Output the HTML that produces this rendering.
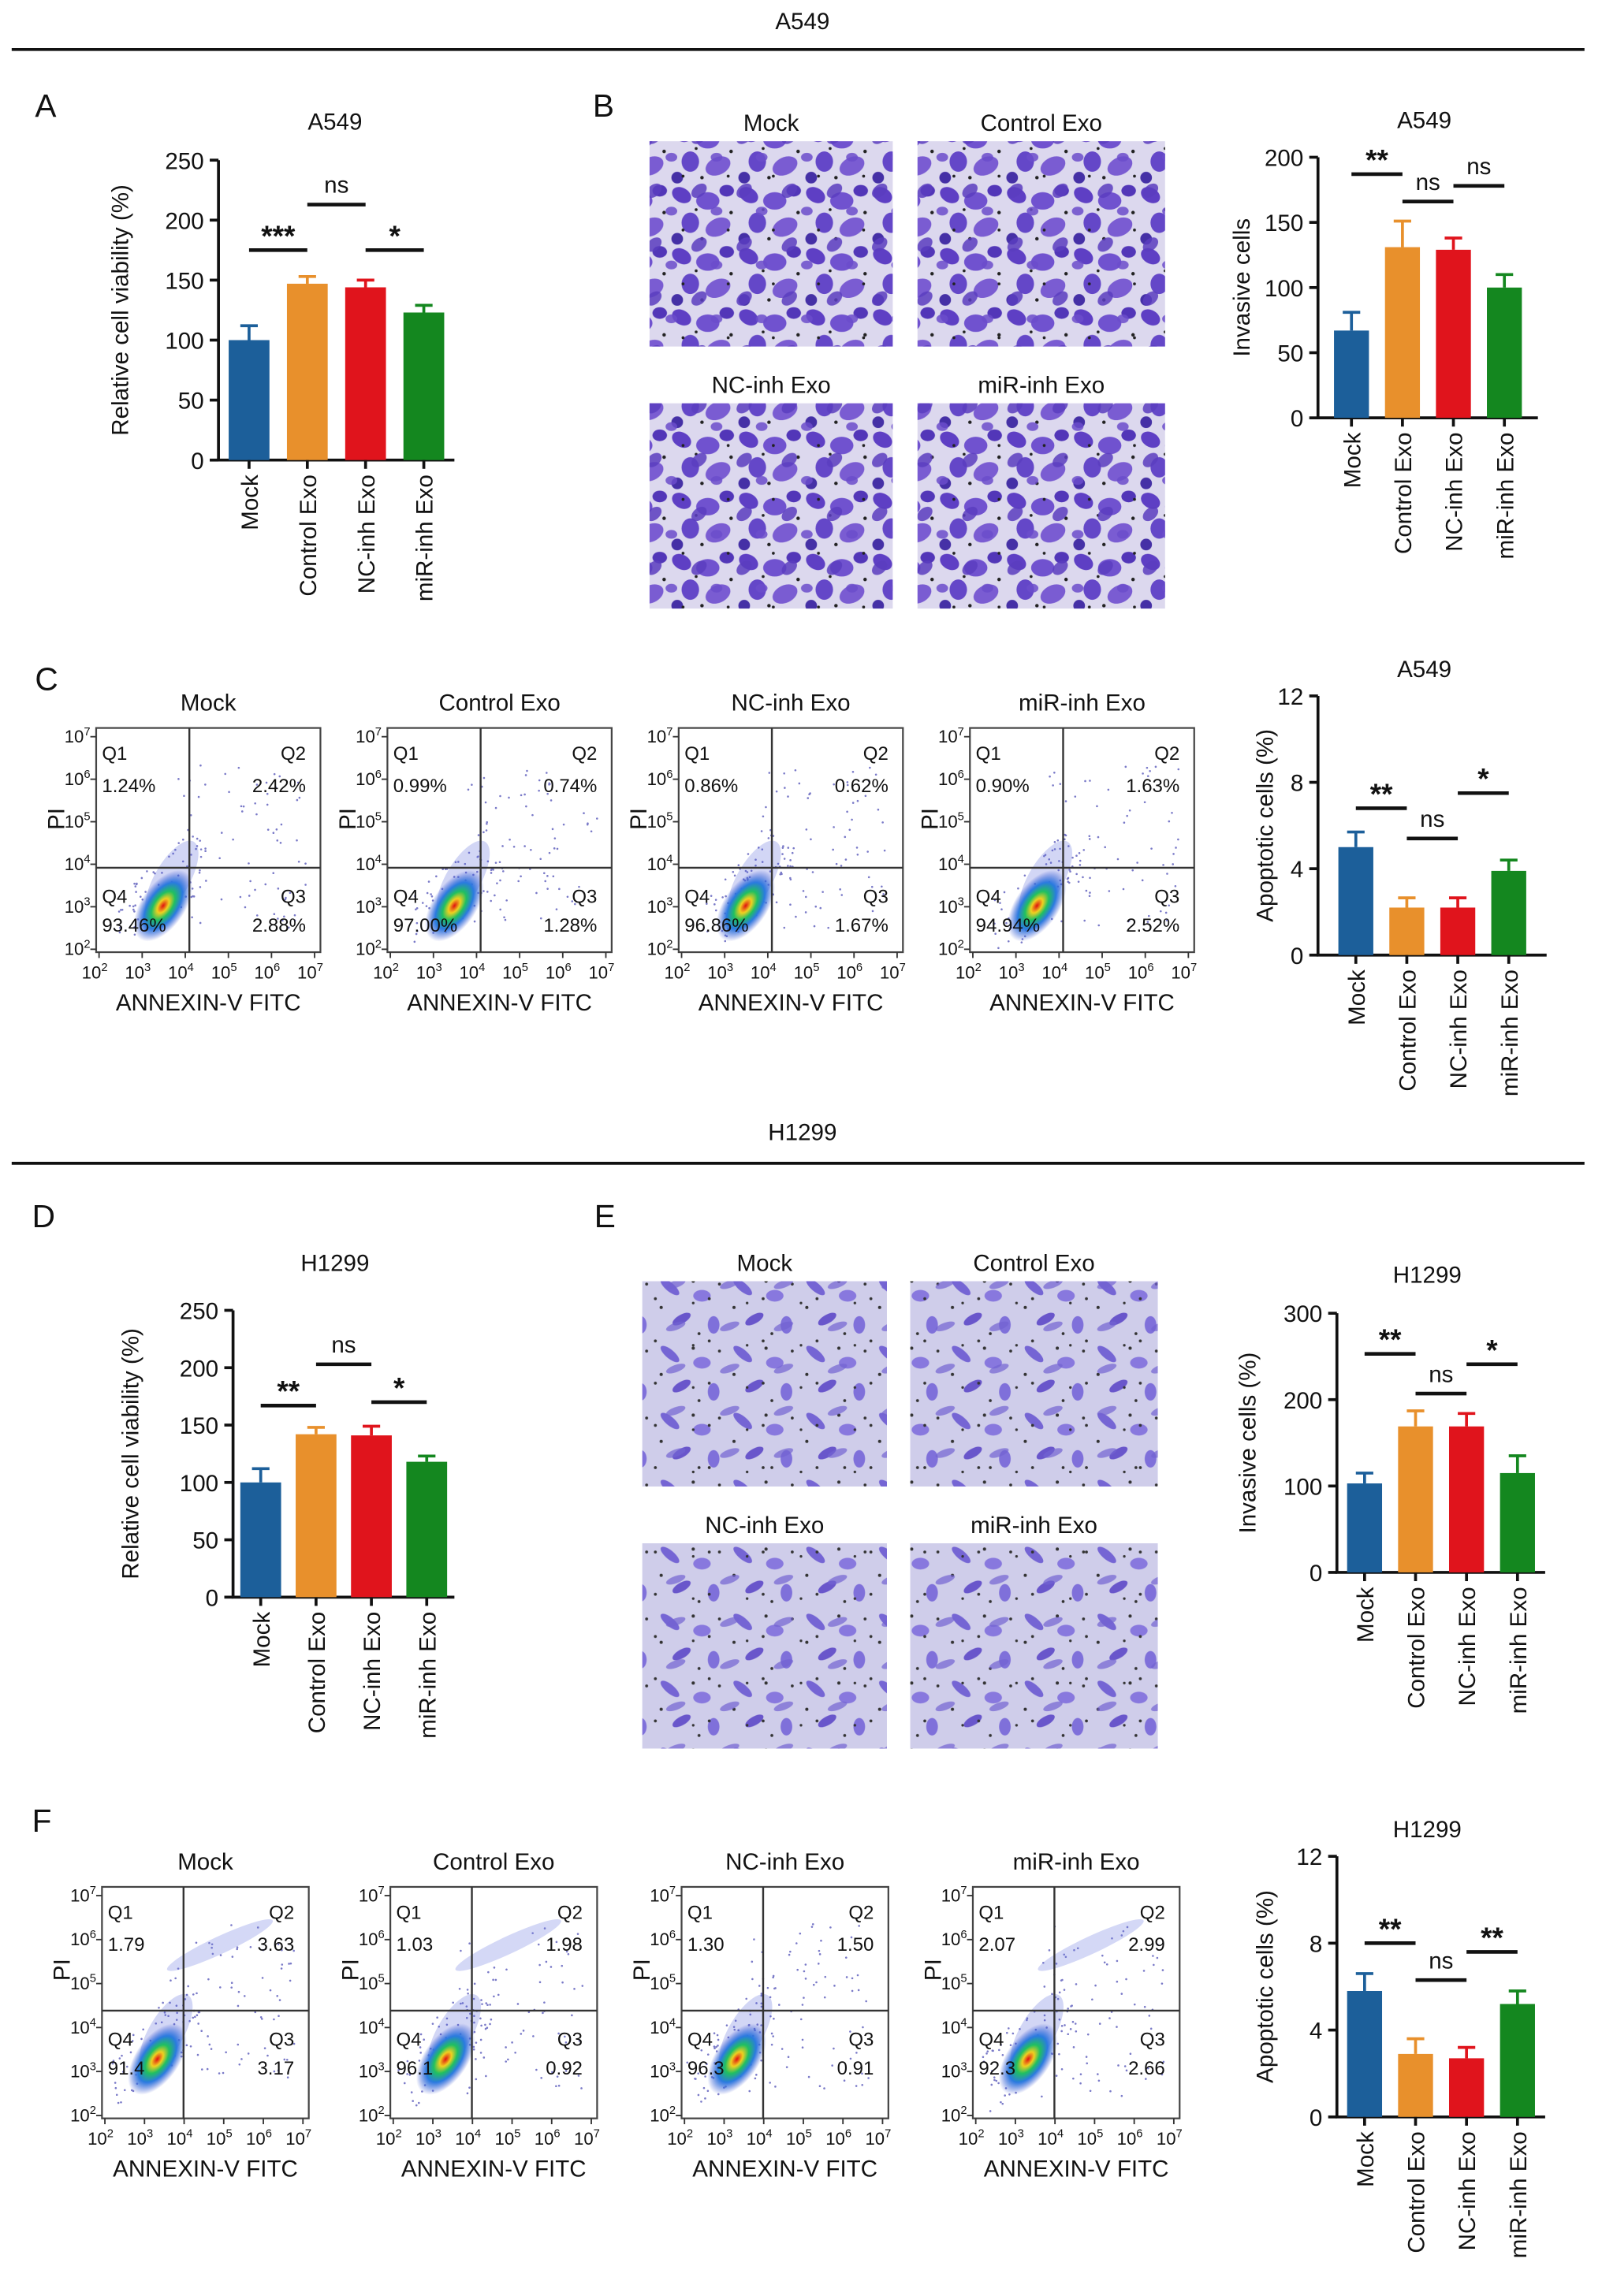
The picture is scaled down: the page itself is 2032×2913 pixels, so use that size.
<!DOCTYPE html>
<html><head><meta charset="utf-8"><style>
html,body{margin:0;padding:0;background:#fff}
svg{display:block}
text{font-family:"Liberation Sans",sans-serif;fill:#111}
</style></head><body>
<svg id="fig" width="2032" height="2913" viewBox="0 0 1100 1577" xmlns="http://www.w3.org/2000/svg">
<defs>
<pattern id="cellsA" width="46" height="42" patternUnits="userSpaceOnUse">
<rect width="46" height="42" fill="#dcd8ee"/>
<ellipse cx="8" cy="8" rx="7" ry="5" fill="#5e3fc4" transform="rotate(30 8 8)"/>
<ellipse cx="26" cy="12" rx="8" ry="6" fill="#7052cf"/>
<ellipse cx="39" cy="5" rx="5" ry="4" fill="#5236b8"/>
<ellipse cx="14" cy="27" rx="6" ry="7" fill="#6447c8"/>
<ellipse cx="33" cy="30" rx="9" ry="6" fill="#7a5cd2" transform="rotate(-25 33 30)"/>
<ellipse cx="5" cy="38" rx="4" ry="4" fill="#4530a6"/>
<circle cx="22" cy="38" r="1.2" fill="#222"/><circle cx="42" cy="20" r="1.2" fill="#222"/><circle cx="18" cy="18" r="1" fill="#222"/>
</pattern>
<pattern id="cellsA2" width="31" height="37" patternUnits="userSpaceOnUse">
<ellipse cx="15" cy="20" rx="6" ry="4" fill="#5a3dc0" opacity="0.85" transform="rotate(-40 15 20)"/>
<ellipse cx="27" cy="34" rx="4" ry="3" fill="#6b4ccb" opacity="0.85"/>
<circle cx="4" cy="10" r="1" fill="#222"/>
</pattern>
<pattern id="cellsH" width="50" height="46" patternUnits="userSpaceOnUse">
<rect width="50" height="46" fill="#cfcdea"/>
<ellipse cx="10" cy="10" rx="8" ry="3" fill="#7565d4" transform="rotate(40 10 10)"/>
<ellipse cx="32" cy="16" rx="6" ry="4" fill="#8878de"/>
<ellipse cx="18" cy="32" rx="7" ry="3" fill="#6956cb" transform="rotate(-30 18 32)"/>
<ellipse cx="40" cy="36" rx="4" ry="6" fill="#7f70da"/>
<circle cx="26" cy="6" r="1.1" fill="#333"/><circle cx="4" cy="24" r="1.1" fill="#333"/><circle cx="44" cy="8" r="1" fill="#333"/><circle cx="30" cy="42" r="1" fill="#333"/>
</pattern>
<pattern id="cellsH2" width="37" height="29" patternUnits="userSpaceOnUse">
<ellipse cx="20" cy="12" rx="7" ry="2.5" fill="#7262d2" opacity="0.7" transform="rotate(-20 20 12)"/>
<circle cx="6" cy="22" r="1" fill="#333"/><circle cx="32" cy="25" r="0.9" fill="#333"/>
</pattern>
<radialGradient id="dens">
<stop offset="0" stop-color="#e01010"/><stop offset="0.2" stop-color="#f0d020"/><stop offset="0.4" stop-color="#20c060"/><stop offset="0.65" stop-color="#2a7ae0"/><stop offset="1" stop-color="#3a50d0" stop-opacity="0"/>
</radialGradient>
</defs>
<g id="root"></g>
</svg>
<script>
// ---------- data ----------
const categories = ["Mock","Control Exo","NC-inh Exo","miR-inh Exo"];
const viabA549 = [100,147,144,123];
const viabA549Err = [12,6,6,6];
const invA549 = [67,131,129,100];
const invA549Err = [14,20,9,10];
const apoA549 = [5.0,2.2,2.2,3.9];
const apoA549Err = [0.7,0.45,0.45,0.5];
const viabH1299 = [100,142,141,118];
const viabH1299Err = [12,6,8,5];
const invH1299 = [103,169,169,115];
const invH1299Err = [12,18,15,20];
const apoH1299 = [5.8,2.9,2.7,5.2];
const apoH1299Err = [0.8,0.7,0.5,0.6];
const sigA = [[0,1,175,"***"],[1,2,213,"ns"],[2,3,175,"*"]];
const sigB = [[0,1,187,"**"],[1,2,166,"ns"],[2,3,178,"ns"]];
const sigC = [[0,1,6.8,"**"],[1,2,5.4,"ns"],[2,3,7.5,"*"]];
const sigD = [[0,1,167,"**"],[1,2,203,"ns"],[2,3,170,"*"]];
const sigE = [[0,1,253,"**"],[1,2,207,"ns"],[2,3,241,"*"]];
const sigF = [[0,1,8.0,"**"],[1,2,6.3,"ns"],[2,3,7.6,"**"]];
const flowA549Q = [["1.24%","2.42%","2.88%","93.46%"],["0.99%","0.74%","1.28%","97.00%"],["0.86%","0.62%","1.67%","96.86%"],["0.90%","1.63%","2.52%","94.94%"]];
const flowH1299Q = [["1.79","3.63","3.17","91.4"],["1.03","1.98","0.92","96.1"],["1.30","1.50","0.91","96.3"],["2.07","2.99","2.66","92.3"]];
const barColors = ["#1c5f9a","#e8902c","#e0141c","#14871f"];

const NS="http://www.w3.org/2000/svg";
const root=document.getElementById('root');
function el(tag,attrs,parent,txt){const e=document.createElementNS(NS,tag);for(const k in attrs)e.setAttribute(k,attrs[k]);if(txt!==undefined)e.textContent=txt;(parent||root).appendChild(e);return e;}
function hash(n){const s=Math.sin(n*12.9898)*43758.5453;return s-Math.floor(s);}

function barChart(o){
  const g=el('g',{});
  
  
  const yS=v=>o.y0-(v/o.max)*(o.y0-o.yTop);
  const xC=i=>o.x0+o.off+i*o.sp;
  const t=el('text',{x:o.tx,y:o.ty,'text-anchor':'middle','font-size':16},g,o.title);
  
  
  el('line',{x1:o.x0,y1:o.yTop,x2:o.x0,y2:o.y0,stroke:'#111','stroke-width':2},g);
  el('line',{x1:o.x0-1,y1:o.y0,x2:o.x0+o.off*2+o.sp*3,y2:o.y0,stroke:'#111','stroke-width':2},g);
  for(let v=0;v<=o.max+1e-9;v+=o.step){
    const y=yS(v);
    el('line',{x1:o.x0-6,y1:y,x2:o.x0,y2:y,stroke:'#111','stroke-width':2},g);
    const tl=el('text',{x:o.x0-10,y:y+6,'text-anchor':'end','font-size':16},g,String(v));
    
    
  }
  const yt=el('text',{x:o.ytx,y:(o.y0+o.yTop)/2,'text-anchor':'middle','font-size':16,transform:`rotate(-90 ${o.ytx} ${(o.y0+o.yTop)/2})`},g,o.ytitle);
  
  
  o.vals.forEach((v,i)=>{
    const cx=xC(i),y=yS(v),ye=yS(v+o.err[i]);
    const r=el('rect',{x:cx-o.bw/2,y:y,width:o.bw,height:o.y0-y,fill:barColors[i]},g);
    
    
    el('line',{x1:cx,y1:y,x2:cx,y2:ye,stroke:barColors[i],'stroke-width':2},g);
    el('line',{x1:cx-6,y1:ye,x2:cx+6,y2:ye,stroke:barColors[i],'stroke-width':2},g);
    el('line',{x1:cx,y1:o.y0,x2:cx,y2:o.y0+6,stroke:'#111','stroke-width':2},g);
    const lx=cx+6,ly=o.y0+10;
    const cl=el('text',{x:lx,y:ly,'text-anchor':'end','font-size':16,transform:`rotate(-90 ${lx} ${ly})`},g,categories[i]);
    
    
  });
  o.sig.forEach(s=>{
    const y=yS(s[2]),xa=xC(s[0]),xb=xC(s[1]);
    const ln=el('line',{x1:xa,y1:y,x2:xb,y2:y,stroke:'#111','stroke-width':2.5},g);
    
    
    const star=s[3]!=='ns';
    const st=el('text',{x:(xa+xb)/2,y:star?y-3:y-8,'text-anchor':'middle','font-size':star?20:16,'font-weight':star?'bold':'normal'},g,s[3]);
    
    
  });
}

function flowPlot(o,seed){
  const g=el('g',{});
  
  
  const L=o.x,T=o.top,W=o.w,B=o.bot,H=B-T,qx=L+o.qx,qy=o.qy;
  const tt=el('text',{x:L+W/2,y:T-12,'text-anchor':'middle','font-size':16},g,o.title);
  
  
  const cx=qx-18,cy=qy+(B-qy)*0.45;
  for(let k=0;k<140;k++){
    const a=hash(seed*1000+k),b=hash(seed*1000+k+500);
    let px,py;
    if(k<70){ px=cx+(a-0.5)*60+ (b-0.5)*10; py=cy-(a-0.5)*60+(b-0.5)*40-10; }
    else { px=qx-10+a*(W-o.qx); py=T+25+b*(B-T-40); }
    if(px<L+2||px>L+W-2||py<T+2||py>B-2) continue;
    el('circle',{cx:px,cy:py,r:0.7,fill:'#7a7ac8'},g);
  }
  el('ellipse',{cx:cx+6,cy:cy-18,rx:30,ry:12,fill:'#4a5ad8',opacity:0.25,transform:`rotate(-60 ${cx+6} ${cy-18})`},g);
  if(o.tail) el('ellipse',{cx:qx+25,cy:qy-45,rx:40,ry:6,fill:'#6f7ee0',opacity:0.3,transform:`rotate(-25 ${qx+25} ${qy-45})`},g);
  el('ellipse',{cx:cx,cy:cy,rx:28,ry:15,fill:'url(#dens)',transform:`rotate(-55 ${cx} ${cy})`},g);
  el('rect',{x:L,y:T,width:W,height:H,fill:'none',stroke:'#444','stroke-width':1.2},g);
  el('line',{x1:qx,y1:T,x2:qx,y2:B,stroke:'#333','stroke-width':1.3},g);
  el('line',{x1:L,y1:qy,x2:L+W,y2:qy,stroke:'#333','stroke-width':1.3},g);
  for(let i=0;i<6;i++){
    const y=B-2-i*(H-8)/5;
    el('line',{x1:L-4,y1:y,x2:L,y2:y,stroke:'#333'},g);
    const tl=el('text',{x:L-4,y:y+4,'text-anchor':'end','font-size':12},g);
    
    
    tl.appendChild(document.createTextNode('10'));
    el('tspan',{dy:-5,'font-size':8},tl,String(i+2));
  }
  for(let i=0;i<6;i++){
    const x=L+2+i*(W-6)/5;
    el('line',{x1:x,y1:B,x2:x,y2:B+4,stroke:'#333'},g);
    const tl=el('text',{x:x-3,y:B+18,'text-anchor':'middle','font-size':12},g);
    
    
    tl.appendChild(document.createTextNode('10'));
    el('tspan',{dy:-5,'font-size':8},tl,String(i+2));
  }
  const pi=el('text',{x:L-22,y:(T+qy)/2+22,'font-size':16,transform:`rotate(-90 ${L-22} ${(T+qy)/2+22})`},g,'PI');
  
  
  const xt=el('text',{x:L+W/2,y:B+40,'text-anchor':'middle','font-size':16},g,'ANNEXIN-V FITC');
  
  
  const q=o.q,fs=13;
  const lab=(x,y,a,s,n)=>{const t=el('text',{x:x,y:y,'text-anchor':a,'font-size':fs},g,s);};
  lab(L+4,T+22,'start','Q1','quadrant-label');lab(L+4,T+44,'start',q[0],'quadrant-value');
  lab(L+W-10,T+22,'end','Q2','quadrant-label');lab(L+W-10,T+44,'end',q[1],'quadrant-value');
  lab(L+W-10,qy+24,'end','Q3','quadrant-label');lab(L+W-10,qy+44,'end',q[2],'quadrant-value');
  lab(L+4,qy+24,'start','Q4','quadrant-label');lab(L+4,qy+44,'start',q[3],'quadrant-value');
}

function micro(x,y,w,h,pat,pat2,title,name){
  const t=el('text',{x:x+w/2,y:y-7,'text-anchor':'middle','font-size':16},root,title);
  
  
  const r=el('rect',{x:x,y:y,width:w,height:h,fill:`url(#${pat})`});
  
  
  el('rect',{x:x,y:y,width:w,height:h,fill:`url(#${pat2})`});
}
function txt(x,y,s,fs,name,anchor){const t=el('text',{x:x,y:y,'font-size':fs,'text-anchor':anchor||'start'},root,s);}

txt(551,20,'A549',16,'section-title-a549','middle');
el('line',{x1:8,y1:34,x2:1088,y2:34,stroke:'#111','stroke-width':2});
txt(551,783,'H1299',16,'section-title-h1299','middle');
el('line',{x1:8,y1:799,x2:1088,y2:799,stroke:'#111','stroke-width':2});
[['A',24,80],['B',407,80],['C',24,474],['D',22,843],['E',408,843],['F',22,1258]].forEach(p=>txt(p[1],p[2],p[0],22,'panel-label-'+p[0].toLowerCase()));

barChart({name:'chart-a-viability-a549',title:'A549',tx:230,ty:89,x0:150,off:21,sp:40,bw:28,y0:316,yTop:110,max:250,step:50,ytx:88,ytitle:'Relative cell viability (%)',vals:viabA549,err:viabA549Err,sig:sigA});
barChart({name:'chart-b-invasion-a549',title:'A549',tx:978,ty:88,x0:905,off:23,sp:35,bw:24,y0:287,yTop:108,max:200,step:50,ytx:858,ytitle:'Invasive cells',vals:invA549,err:invA549Err,sig:sigB});
barChart({name:'chart-c-apoptosis-a549',title:'A549',tx:978,ty:465,x0:905,off:26,sp:35,bw:24,y0:656,yTop:478,max:12,step:4,ytx:874,ytitle:'Apoptotic cells (%)',vals:apoA549,err:apoA549Err,sig:sigC});
barChart({name:'chart-d-viability-h1299',title:'H1299',tx:230,ty:873,x0:160,off:19,sp:38,bw:28,y0:1097,yTop:900,max:250,step:50,ytx:95,ytitle:'Relative cell viability (%)',vals:viabH1299,err:viabH1299Err,sig:sigD});
barChart({name:'chart-e-invasion-h1299',title:'H1299',tx:980,ty:881,x0:918,off:19,sp:35,bw:24,y0:1080,yTop:902,max:300,step:100,ytx:862,ytitle:'Invasive cells (%)',vals:invH1299,err:invH1299Err,sig:sigE});
barChart({name:'chart-f-apoptosis-h1299',title:'H1299',tx:980,ty:1262,x0:918,off:19,sp:35,bw:24,y0:1454,yTop:1275,max:12,step:4,ytx:874,ytitle:'Apoptotic cells (%)',vals:apoH1299,err:apoH1299Err,sig:sigF});

micro(446,97,167,141,'cellsA','cellsA2','Mock','micrograph-a549-mock');
micro(630,97,170,141,'cellsA','cellsA2','Control Exo','micrograph-a549-control');
micro(446,277,167,141,'cellsA','cellsA2','NC-inh Exo','micrograph-a549-nc');
micro(630,277,170,141,'cellsA','cellsA2','miR-inh Exo','micrograph-a549-mir');
micro(441,880,168,141,'cellsH','cellsH2','Mock','micrograph-h1299-mock');
micro(625,880,170,141,'cellsH','cellsH2','Control Exo','micrograph-h1299-control');
micro(441,1060,168,141,'cellsH','cellsH2','NC-inh Exo','micrograph-h1299-nc');
micro(625,1060,170,141,'cellsH','cellsH2','miR-inh Exo','micrograph-h1299-mir');

[66,266,466,666].forEach((x,i)=>flowPlot({x:x,top:500,bot:654,w:154,qx:64,qy:596,title:categories[i],q:flowA549Q[i],tail:false},i+1));
[70,268,468,668].forEach((x,i)=>flowPlot({x:x,top:1296,bot:1455,w:142,qx:56,qy:1381,title:categories[i],q:flowH1299Q[i],tail:i!==2},i+11));
</script>
</body></html>
